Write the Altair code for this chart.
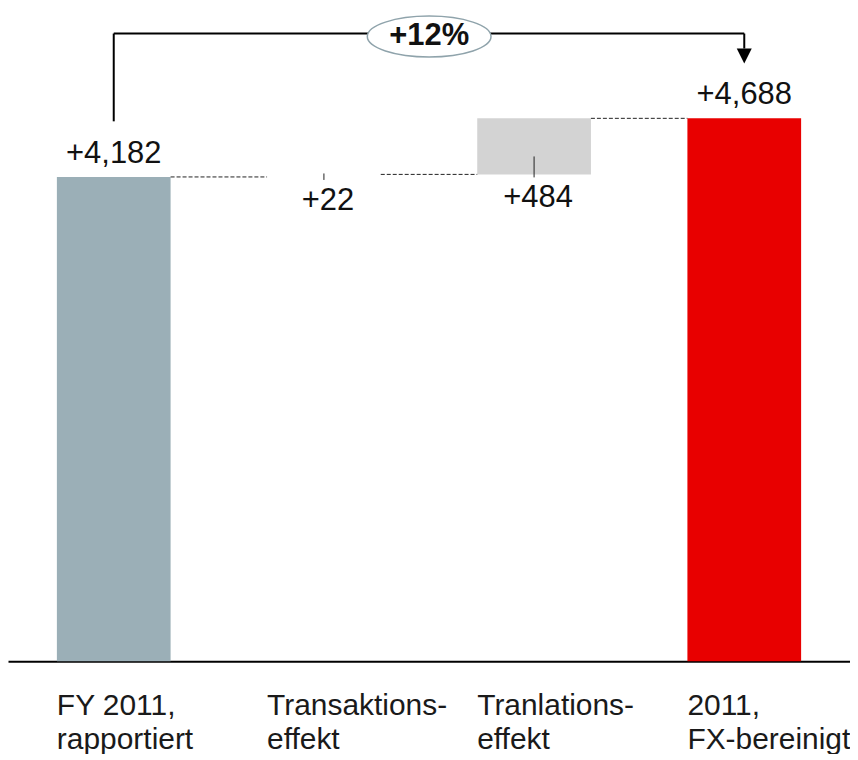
import altair as alt
import pandas as pd

# ---- data ----
categories = ["FY 2011,|rapportiert", "Transaktions-|effekt", "Tranlations-|effekt", "2011,|FX-bereinigt"]
kinds = ["total", "delta", "delta", "total"]
values = [4182, 22, 484, 4688]
bar_colors = ["#9BAFB7", "#FFFFFF", "#D3D3D3", "#E80000"]

FONT = "Liberation Sans, Arial, Helvetica, sans-serif"

starts, ends = [], []
running = 0
for k, v in zip(kinds, values):
    if k == "total":
        s, e = 0, v
    else:
        s, e = running, running + v
    starts.append(s)
    ends.append(e)
    running = e

df = pd.DataFrame({
    "cat": categories, "kind": kinds, "value": values,
    "start": starts, "end": ends,
    "label": [f"+{v:,}" for v in values],
})
conn = pd.DataFrame({"cat": categories[:-1], "next": categories[1:], "level": ends[:-1]})
pct = round((ends[-1] / ends[0] - 1) * 100)
bracket = pd.DataFrame({"a": [categories[0]], "b": [categories[-1]], "mid": [categories[1]],
                        "level": [ends[-1]], "pct": [f"+{pct}%"]})

xscale = alt.Scale(domain=categories, paddingInner=0.459, paddingOuter=0.2326, round=False)
yscale = alt.Scale(domain=[0, 5633], nice=False, zero=True)

xaxis = alt.Axis(
    title=None, labelExpr="split(datum.label, '|')", labelAlign="left",
    labelOffset=-57, labelBaseline="alphabetic", labelPadding=53,
    labelLineHeight=34, labelFontSize=30, labelFont=FONT, labelColor="#1a1a1a",
    labelAngle=0, ticks=False, tickSize=0, domainColor="#000000", domainWidth=2,
    grid=False, labelOverlap=False, labelBound=False, labelLimit=0,
)


def X(field="cat:N", band=0.5):
    return alt.X(field, scale=xscale, axis=xaxis, sort=categories, bandPosition=band)


def Y(field):
    return alt.Y(field, scale=yscale, axis=None)


bars = alt.Chart(df).mark_bar().encode(
    x=X(), y=Y("start:Q"), y2="end:Q",
    color=alt.Color("cat:N", scale=alt.Scale(domain=categories, range=bar_colors), legend=None),
)

total_labels = alt.Chart(df).transform_filter(alt.datum.kind == "total").mark_text(
    dy=-14, baseline="alphabetic", fontSize=31, font=FONT, color="#111111"
).encode(x=X(), y=Y("end:Q"), text="label:N")

delta_labels = alt.Chart(df).transform_filter(alt.datum.kind == "delta").mark_text(
    dy=33, dx=4, baseline="alphabetic", fontSize=31, font=FONT, color="#111111"
).encode(x=X(), y=Y("start:Q"), text="label:N")

lead1 = alt.Chart(df).transform_filter(
    alt.FieldEqualPredicate(field="cat", equal=categories[1])
).mark_rule(color="#222222", strokeWidth=1, yOffset=-3.5, y2Offset=3).encode(
    x=X(), y=Y("start:Q"), y2="start:Q")

lead2 = alt.Chart(df).transform_filter(
    alt.FieldEqualPredicate(field="cat", equal=categories[2])
).mark_rule(color="#222222", strokeWidth=1, yOffset=-18, y2Offset=3).encode(
    x=X(), y=Y("start:Q"), y2="start:Q")

connectors = alt.Chart(conn).mark_rule(color="#222222", strokeWidth=1, strokeDash=[4, 2]).encode(
    x=X("cat:N", 1), x2=alt.X2("next:N", bandPosition=0), y=Y("level:Q"))

b_left = alt.Chart(bracket).mark_rule(color="#000000", strokeWidth=2, yOffset=3, y2Offset=-85).encode(
    x=X("a:N"), y=Y("level:Q"), y2="level:Q")
b_top = alt.Chart(bracket).mark_rule(color="#000000", strokeWidth=2, yOffset=-85).encode(
    x=X("a:N"), x2=alt.X2("b:N", bandPosition=0.5), y=Y("level:Q"))
b_right = alt.Chart(bracket).mark_rule(color="#000000", strokeWidth=2, yOffset=-85, y2Offset=-70).encode(
    x=X("b:N"), y=Y("level:Q"), y2="level:Q")
arrow = alt.Chart(bracket).mark_point(
    shape="M-1,-1L1,-1L0,1Z", size=225, filled=True, color="#000000", opacity=1, yOffset=-62.5
).encode(x=X("b:N"), y=Y("level:Q"))

# ellipse (bezier approximation), centred between 2nd and 3rd category
ELLIPSE = ("M1,0C1,0.18 0.5523,0.33 0,0.33C-0.5523,0.33 -1,0.18 -1,0"
           "C-1,-0.18 -0.5523,-0.33 0,-0.33C0.5523,-0.33 1,-0.18 1,0Z")
ellipse = alt.Chart(bracket).mark_point(
    shape=ELLIPSE, size=124 * 124, filled=True,
    fill="#ffffff", stroke="#8FA3AB", strokeWidth=1.5, opacity=1, fillOpacity=1,
    xOffset=105.5, yOffset=-82,
).encode(x=X("mid:N"), y=Y("level:Q"))

pct_text = alt.Chart(bracket).mark_text(
    fontSize=31, fontWeight="bold", font=FONT, baseline="alphabetic", color="#111111",
    xOffset=105.5, dy=-74,
).encode(x=X("mid:N"), y=Y("level:Q"), text="pct:N")

chart = alt.layer(
    bars, connectors, lead1, lead2, total_labels, delta_labels,
    b_left, b_top, b_right, arrow, ellipse, pct_text,
).properties(
    width=844, height=654, autosize="none", background="#ffffff",
    padding={"left": 0, "top": 0, "right": 0, "bottom": 92},
).configure_view(strokeWidth=0)

chart.save("out.html", embed_options={"renderer": "svg", "actions": False})
